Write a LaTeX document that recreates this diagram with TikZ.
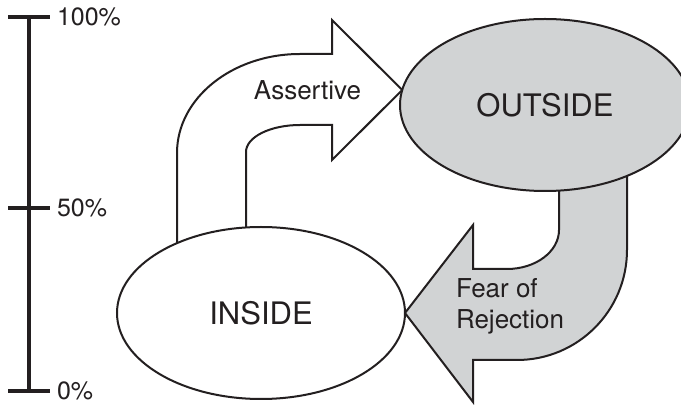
\documentclass[tikz,border=0pt]{standalone}
\usepackage{fontspec}
\setmainfont{TeX Gyre Heros}
\usetikzlibrary{shapes.geometric,backgrounds,calc}
\definecolor{ink}{RGB}{35,31,32}
\definecolor{shade}{RGB}{209,211,212}
\begin{document}
\begin{tikzpicture}[x=1pt,y=-1pt,
  every node/.style={inner sep=0pt,outer sep=0pt,text=ink},
  bar/.style={line width=3.3pt,draw=ink},
  outline/.style={line width=2pt,draw=ink,line join=miter},
  blob/.style={ellipse,outline,minimum height=172pt},
  pct/.style={anchor=west,font=\fontsize{25}{30}\selectfont},
  big/.style={font=\fontsize{31}{37}\selectfont},
  small/.style={font=\fontsize{26}{31}\selectfont},
]
\useasboundingbox (0,0) rectangle (681,411);

% percentage scale
\coordinate (s100) at (29,17);
\coordinate (s50)  at (29,208);
\coordinate (s0)   at (29,391);
\draw[bar] (s100) -- (s0);
\foreach \t in {s100,s50,s0}
  \draw[bar] ([xshift=-21pt]\t) -- ([xshift=21pt]\t);
\node[pct] (l100) at ([xshift=28pt]s100) {100\%};
\node[pct] (l50)  at ([xshift=28pt]s50)  {50\%};
\node[pct] (l0)   at ([xshift=28pt]s0)   {0\%};

% the two states
\node[blob,fill=shade,big,minimum width=290pt] (outside) at (545,105) {OUTSIDE};
\node[blob,fill=white,big,minimum width=288pt] (inside) at (261,313) {INSIDE};

% block arrows, kept behind the ellipses
\begin{pgfonlayer}{background}
  \draw[outline,fill=white]
    (177,260) -- (177,153)
    arc[start angle=180,end angle=270,x radius=123,y radius=99]
    -- (332,54) -- (332,20) -- (outside.174) -- (332,160) -- (332,125)
    -- (300,125)
    arc[start angle=270,end angle=180,x radius=54,y radius=27]
    -- (246,260) -- cycle;
  \draw[outline,fill=shade]
    (559,150) -- (559,230)
    arc[start angle=0,end angle=90,x radius=52,y radius=39]
    -- (473,269) -- (473,225) -- (inside.east) -- (473,402) -- (473,360)
    -- (517,360)
    arc[start angle=90,end angle=0,x radius=110,y radius=110]
    -- (627,150) -- cycle;
\end{pgfonlayer}

\node[small] (assertive) at (307.5,90) {Assertive};
\node[small,align=left,anchor=west] (fear) at (456,306) {Fear of\\Rejection};
\end{tikzpicture}
\end{document}
